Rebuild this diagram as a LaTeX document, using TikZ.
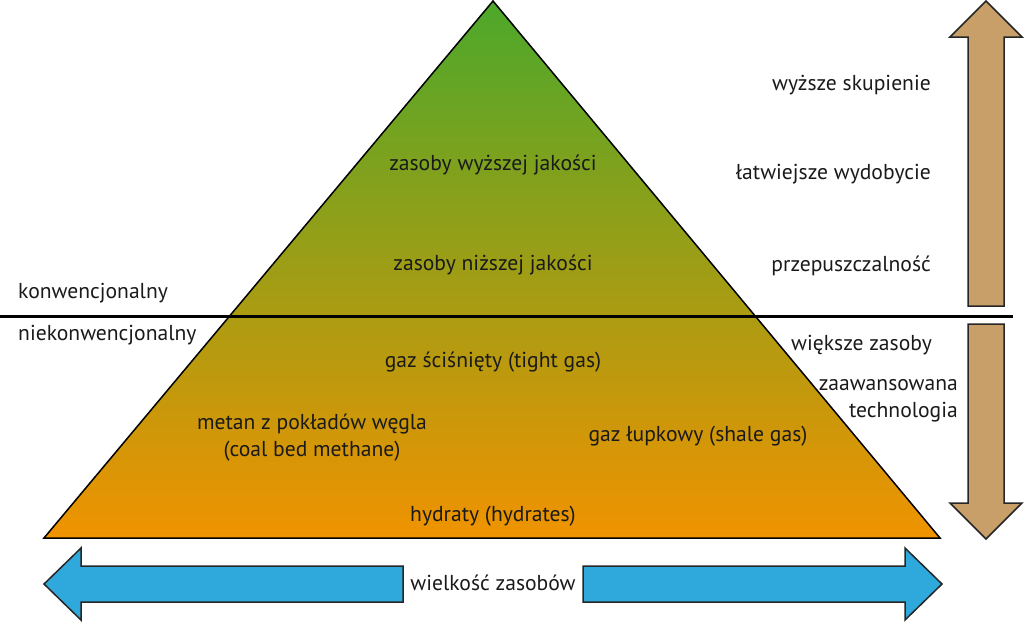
\documentclass[tikz,border=0pt]{standalone}
\usepackage{fontspec}
\setmainfont{PT Sans}
\definecolor{pgreen}{HTML}{4CA82B}
\definecolor{polive}{HTML}{BAA914}
\definecolor{porange}{HTML}{F09300}
\definecolor{pblue}{HTML}{2FA8DC}
\definecolor{pbrown}{HTML}{C89F69}
\definecolor{ptext}{HTML}{1A1A1A}
\tikzset{
  lbl/.style={text=ptext, font=\fontsize{21.6}{27}\selectfont, inner sep=0pt},
  bigarrow/.style={draw=black!85, line width=1.5pt, line join=miter},
}
\begin{document}
\begin{tikzpicture}[x=1pt,y=-1pt]
\useasboundingbox (0,0) rectangle (1024,622);
% pyramid
\path[draw=black, line width=1.5pt, line join=miter, top color=pgreen, middle color=polive, bottom color=porange]
  (493,1) coordinate (apex) -- (940,538) coordinate (br) -- (44,538) coordinate (bl) -- cycle;
% dividing line
\coordinate (hl) at (0,316);
\coordinate (hr) at (1013,316);
\draw[line width=3pt] (hl) -- (hr);
% vertical arrows
\draw[bigarrow, fill=pbrown] (986,1) -- (1022,37) -- (1004,37) -- (1004,306) -- (968,306) -- (968,37) -- (950,37) -- cycle;
\draw[bigarrow, fill=pbrown] (968,324) -- (1004,324) -- (1004,503) -- (1022,503) -- (986,539) -- (950,503) -- (968,503) -- cycle;
% horizontal arrows
\draw[bigarrow, fill=pblue] (44,584) -- (81,548) -- (81,566) -- (403,566) -- (403,602) -- (81,602) -- (81,620) -- cycle;
\draw[bigarrow, fill=pblue] (583,566) -- (905,566) -- (905,548) -- (942,584) -- (905,620) -- (905,602) -- (583,602) -- cycle;
% pyramid labels
\node[lbl] (t1) at (493,165) {zasoby wyższej jakości};
\node[lbl] (t2) at (493,265) {zasoby niższej jakości};
\node[lbl] (t3) at (493,362) {gaz ściśnięty (tight gas)};
\node[lbl, align=center] (t4) at (312,438) {metan z pokładów węgla\\(coal bed methane)};
\node[lbl] (t5) at (698,436) {gaz łupkowy (shale gas)};
\node[lbl] (t6) at (493,516) {hydraty (hydrates)};
% left labels
\node[lbl, anchor=west] (k1) at (18,293) {konwencjonalny};
\node[lbl, anchor=west] (k2) at (18,335) {niekonwencjonalny};
% right labels
\node[lbl, anchor=east] (r1) at (931,85) {wyższe skupienie};
\node[lbl, anchor=east] (r2) at (931,174) {łatwiejsze wydobycie};
\node[lbl, anchor=east] (r3) at (931,266) {przepuszczalność};
\node[lbl, anchor=east] (r4) at (932,345) {większe zasoby};
\node[lbl, anchor=east, align=right] (r5) at (958,401) {zaawansowana\\technologia};
% bottom label
\node[lbl] (w) at (493,583) {wielkość zasobów};
\end{tikzpicture}
\end{document}
